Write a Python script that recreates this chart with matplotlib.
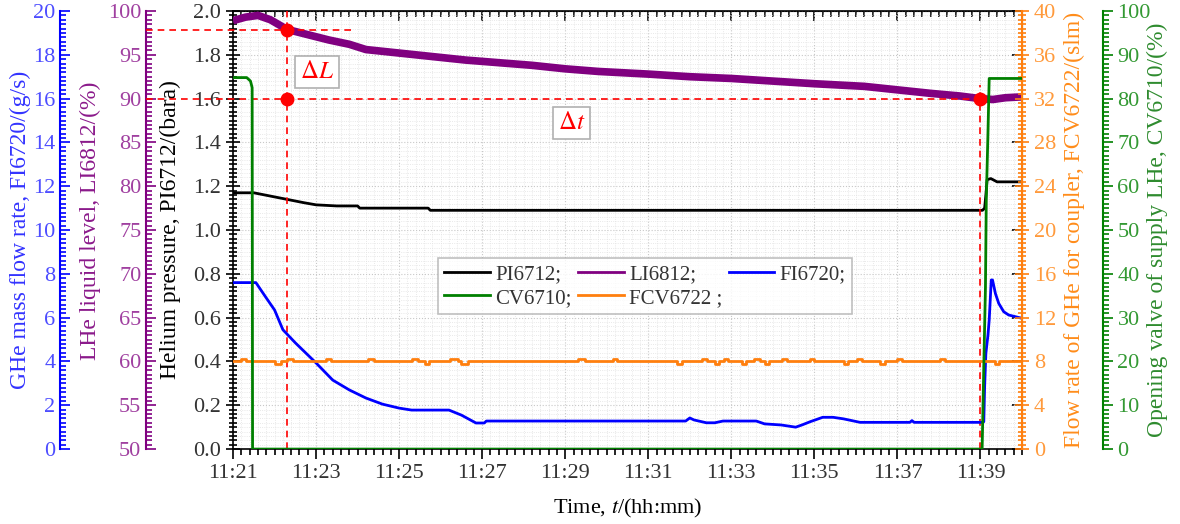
#Recreate the helium supply trend chart (5 signals on 5 y axes)

import matplotlib
matplotlib.use("Agg")
import matplotlib.pyplot as plt
import matplotlib.lines as mlines
from matplotlib.ticker import MultipleLocator, FixedLocator, NullFormatter

plt.rcParams['font.family'] = ['Liberation Serif', 'DejaVu Serif']
plt.rcParams['mathtext.fontset'] = 'stix'

#data, time in minutes after 11:00
press_t = [21.0, 21.5, 21.9, 22.3, 22.7, 23.0, 23.5, 24.0, 24.05, 25.7, 25.75, 39.05, 39.1, 39.13, 39.16, 39.25, 39.4, 40.0]
press_v = [1.17, 1.17, 1.155, 1.14, 1.125, 1.115, 1.11, 1.11, 1.10, 1.10, 1.09, 1.09, 1.10, 1.16, 1.23, 1.235, 1.22, 1.22]

level_t = [21.0, 21.3, 21.6, 21.9, 22.3, 22.8, 23.3, 23.8, 24.2, 25.0, 25.8, 26.6, 27.4, 28.2, 29.0, 29.8, 31.0, 32.0, 33.0, 34.0, 35.0, 36.2, 37.0, 37.8, 38.5, 39.0, 39.3, 39.6, 40.0]
level_v = [98.9, 99.3, 99.5, 99.0, 97.9, 97.3, 96.7, 96.2, 95.6, 95.2, 94.8, 94.4, 94.1, 93.8, 93.4, 93.1, 92.8, 92.5, 92.3, 92.0, 91.7, 91.4, 91.0, 90.6, 90.3, 90.0, 89.9, 90.1, 90.2]

flow_t = [21.0, 21.55, 21.8, 22.0, 22.2, 22.5, 23.0, 23.4, 23.8, 24.2, 24.6, 25.0, 25.3, 26.2, 26.5,
          26.85, 27.05, 27.1, 31.9, 32.0, 32.1, 32.4, 32.6, 32.8, 33.6, 33.8, 34.2, 34.55, 34.7, 34.9,
          35.2, 35.45, 35.7, 36.1, 37.3, 37.35, 37.4, 39.05, 39.08, 39.1, 39.13, 39.18, 39.21, 39.26, 39.29,
          39.36, 39.44, 39.56, 39.68, 40.0]
flow_v = [7.6, 7.6, 6.9, 6.35, 5.45, 4.85, 3.93, 3.15, 2.7, 2.33, 2.05, 1.87, 1.78, 1.78, 1.55,
          1.19, 1.19, 1.28, 1.28, 1.42, 1.33, 1.2, 1.2, 1.28, 1.28, 1.15, 1.1, 1.0, 1.1, 1.25,
          1.45, 1.45, 1.38, 1.22, 1.22, 1.3, 1.22, 1.22, 1.25, 2.85, 4.37, 5.2, 5.89, 7.72, 7.72,
          7.1, 6.65, 6.27, 6.12, 5.97]

valve_t = [21.0, 21.33, 21.42, 21.46, 21.47, 39.04, 39.08, 39.12, 39.14, 39.18, 39.21, 40.0]
valve_v = [84.8, 84.8, 84.0, 82.5, 0.0, 0.0, 18.8, 37.0, 56.8, 72.0, 84.6, 84.6]

coupler_t = [21.0, 21.2, 21.3, 22.0, 22.15, 22.3, 22.45, 23.25, 23.35, 24.25, 24.4, 25.3, 25.45, 25.62, 25.72,
             26.22, 26.42, 26.5, 26.65, 29.3, 29.47, 30.15, 30.25, 31.7, 31.8, 32.3, 32.42, 32.6, 32.7,
             32.82, 32.92, 33.25, 33.35, 33.55, 33.68, 33.8, 33.9, 34.22, 34.33, 34.9, 35.0, 35.72, 35.82,
             36.02, 36.15, 36.58, 36.7, 36.98, 37.1, 38.02, 38.15, 39.35, 39.45, 40.0]
coupler_v = [8.0, 8.25, 8.0, 7.75, 8.0, 8.25, 8.0, 8.25, 8.0, 8.25, 8.0, 8.25, 8.0, 7.75, 8.0,
             8.25, 8.0, 7.75, 8.0, 8.25, 8.0, 8.25, 8.0, 7.75, 8.0, 8.25, 8.0, 7.75, 8.0,
             8.25, 8.0, 7.75, 8.0, 8.25, 8.0, 7.75, 8.0, 8.25, 8.0, 8.25, 8.0, 7.75, 8.0,
             8.25, 8.0, 7.75, 8.0, 8.25, 8.0, 8.25, 8.0, 7.75, 8.0, 8.0]

#red marks for the level drop and the time span
mark_t = [22.3, 22.3, 39.0]
mark_level = [97.8, 90.0, 90.0]

xticks = [21, 23, 25, 27, 29, 31, 33, 35, 37, 39]
xtick_labels = ['11:21', '11:23', '11:25', '11:27', '11:29', '11:31', '11:33', '11:35', '11:37', '11:39']

#colours
c_press = 'black'
c_level = '#800080'
c_flow = '#0000ff'
c_valve = '#008000'
c_coupler = '#ff7f0e'

fs = 16    #tick labels
lfs = 17   #axis labels

fig = plt.figure(figsize=(11.8, 5.24), dpi=100)
ax = fig.add_axes([0.1975, 0.143, 0.6686, 0.836])

ax_l = ax.twinx()
ax_f = ax.twinx()
ax_c = ax.twinx()
ax_v = ax.twinx()

#main axis: pressure
ax.plot(press_t, press_v, color=c_press, lw=2)
ax.set_xlim(21, 40)
ax.set_ylim(0, 2.0)
ax.xaxis.set_major_locator(FixedLocator(xticks))
ax.set_xticklabels(xtick_labels)
ax.xaxis.set_minor_locator(MultipleLocator(0.2))
ax.yaxis.set_major_locator(MultipleLocator(0.2))
ax.yaxis.set_minor_locator(MultipleLocator(0.02))
ax.yaxis.set_major_formatter(plt.FormatStrFormatter('%.1f'))
ax.grid(which='major', color='#c8c8c8', ls=':', lw=0.8)
ax.grid(which='minor', color='#e2e2e2', ls=':', lw=0.6)
ax.tick_params(axis='x', which='both', direction='out', labelsize=fs, labelcolor='#333333', width=1.2)
ax.tick_params(axis='x', which='major', length=7)
ax.tick_params(axis='x', which='minor', length=4)
ax.tick_params(axis='y', which='both', direction='inout', labelsize=fs, labelcolor='#333333', width=1.2)
ax.tick_params(axis='y', which='major', length=10)
ax.tick_params(axis='y', which='minor', length=6)
for s in ['left', 'bottom', 'top']:
    ax.spines[s].set_linewidth(1.2)
ax.set_ylabel('Helium pressure, PI6712/(bara)', fontsize=lfs)
ax.yaxis.set_label_coords(-0.066, 0.5)
ax.set_xlabel('Time, $t$/(hh:mm)', fontsize=fs)
ax.xaxis.set_label_coords(0.5, -0.11)

#mirrored inner ticks on top and right of the frame
top = ax.secondary_xaxis('top')
top.xaxis.set_major_locator(FixedLocator(xticks))
top.xaxis.set_minor_locator(MultipleLocator(0.2))
top.xaxis.set_major_formatter(NullFormatter())
top.tick_params(which='both', direction='in', width=1.2)
top.tick_params(which='major', length=7)
top.tick_params(which='minor', length=4)
rgt = ax.secondary_yaxis('right')
rgt.yaxis.set_major_locator(MultipleLocator(0.2))
rgt.yaxis.set_major_formatter(NullFormatter())
rgt.tick_params(which='major', direction='in', length=7, width=1.2)
rgt.spines['right'].set_visible(False)

def left_axis(a, pos, col, lab_col):
    a.spines['left'].set_position(('axes', pos))
    a.spines['left'].set_visible(True)
    a.spines['left'].set_color(col)
    a.spines['left'].set_linewidth(1.5)
    for s in ['right', 'top', 'bottom']:
        a.spines[s].set_visible(False)
    a.yaxis.tick_left()
    a.yaxis.set_label_position('left')
    a.tick_params(axis='y', which='both', direction='in', colors=col, labelcolor=lab_col, labelsize=fs, width=1.2)
    a.tick_params(axis='y', which='major', length=7)
    a.tick_params(axis='y', which='minor', length=4)

#liquid level
ax_l.plot(level_t, level_v, color=c_level, lw=5.5, solid_capstyle='butt')
ax_l.set_ylim(50, 100)
ax_l.yaxis.set_major_locator(MultipleLocator(5))
ax_l.yaxis.set_minor_locator(MultipleLocator(0.5))
left_axis(ax_l, -0.110, c_level, '#a040a0')
ax_l.set_ylabel('LHe liquid level, LI6812/(%)', fontsize=lfs, color='#8b1a8b')
ax_l.yaxis.set_label_coords(-0.167, 0.52)

#annotation lines and points on the level axis
dash = (0, (4, 3))
ax_l.axhline(mark_level[0], xmin=-0.110, xmax=(23.86 - 21) / 19, color='red', ls=dash, lw=1.2, clip_on=False, zorder=5)
ax_l.axhline(mark_level[1], xmin=-0.110, xmax=(mark_t[2] - 21) / 19, color='red', ls=dash, lw=1.2, clip_on=False, zorder=5)
ax_l.axvline(mark_t[0], color='red', ls=dash, lw=1.2, zorder=5)
ax_l.axvline(mark_t[2], ymax=(1.66 / 2.0), color='red', ls=dash, lw=1.2, zorder=5)
ax_l.plot(mark_t, mark_level, 'o', color='red', ms=9, zorder=6)

#mass flow
ax_f.plot(flow_t, flow_v, color=c_flow, lw=2)
ax_f.set_ylim(0, 20)
ax_f.yaxis.set_major_locator(MultipleLocator(2))
ax_f.yaxis.set_minor_locator(MultipleLocator(0.2))
left_axis(ax_f, -0.219, c_flow, '#4d4dff')
ax_f.set_ylabel('GHe mass flow rate, FI6720/(g/s)', fontsize=lfs, color='#3333ff')
ax_f.yaxis.set_label_coords(-0.256, 0.5)

#coupler flow (right, on the frame)
ax_c.plot(coupler_t, coupler_v, color=c_coupler, lw=2, drawstyle='steps-post')
ax_c.set_ylim(0, 40)
ax_c.yaxis.set_major_locator(MultipleLocator(4))
ax_c.yaxis.set_minor_locator(MultipleLocator(0.4))
for s in ['left', 'top', 'bottom']:
    ax_c.spines[s].set_visible(False)
ax_c.spines['right'].set_color(c_coupler)
ax_c.spines['right'].set_linewidth(1.5)
ax_c.tick_params(axis='y', which='both', direction='inout', colors=c_coupler, labelcolor='#ff9a3c', labelsize=fs, width=1.2)
ax_c.tick_params(axis='y', which='major', length=10)
ax_c.tick_params(axis='y', which='minor', length=6)
ax_c.set_ylabel('Flow rate of GHe for coupler, FCV6722/(slm)', fontsize=lfs, color='#ff8c1a')
ax_c.yaxis.set_label_coords(1.053, 0.5)

#valve opening
ax_v.plot(valve_t, valve_v, color=c_valve, lw=2)
ax_v.set_ylim(0, 100)
ax_v.yaxis.set_major_locator(MultipleLocator(10))
ax_v.yaxis.set_minor_locator(MultipleLocator(1))
ax_v.spines['right'].set_position(('axes', 1.1025))
ax_v.spines['right'].set_color(c_valve)
ax_v.spines['right'].set_linewidth(1.5)
for s in ['left', 'top', 'bottom']:
    ax_v.spines[s].set_visible(False)
ax_v.tick_params(axis='y', which='both', direction='out', colors=c_valve, labelcolor='#339933', labelsize=fs, width=1.2)
ax_v.tick_params(axis='y', which='major', length=7)
ax_v.tick_params(axis='y', which='minor', length=4)
ax_v.set_ylabel('Opening valve of supply LHe, CV6710/(%)', fontsize=lfs, color='#2e8b2e')
ax_v.yaxis.set_label_coords(1.158, 0.5)

#text boxes
box = dict(boxstyle='square,pad=0.2', fc='white', ec='#b0b0b0', lw=1.2)
ax.text(23.02, 1.72, r'$\Delta L$', color='red', fontsize=18, ha='center', va='center', bbox=box, zorder=7)
ax.text(29.15, 1.49, r'$\Delta t$', color='red', fontsize=18, ha='center', va='center', bbox=box, zorder=7)

#legend, column order arranged so rows read like the reference
names = ['PI6712;', 'CV6710;', 'LI6812;', 'FCV6722 ;', 'FI6720;']
cols = [c_press, c_valve, c_level, c_coupler, c_flow]
leg_handles = [mlines.Line2D([], [], color=c, lw=2) for c in cols]
leg = ax_v.legend(leg_handles, names, loc='center', bbox_to_anchor=(0.522, 0.372), ncol=3,
                  fontsize=15, frameon=True, fancybox=False, edgecolor='#b0b0b0',
                  handlelength=2.2, handletextpad=0.25, columnspacing=0.3, borderpad=0.3, labelspacing=0.2)
leg.get_frame().set_linewidth(1.2)
for t in leg.get_texts():
    t.set_color('#333333')

fig.savefig('out.png', dpi=100)
